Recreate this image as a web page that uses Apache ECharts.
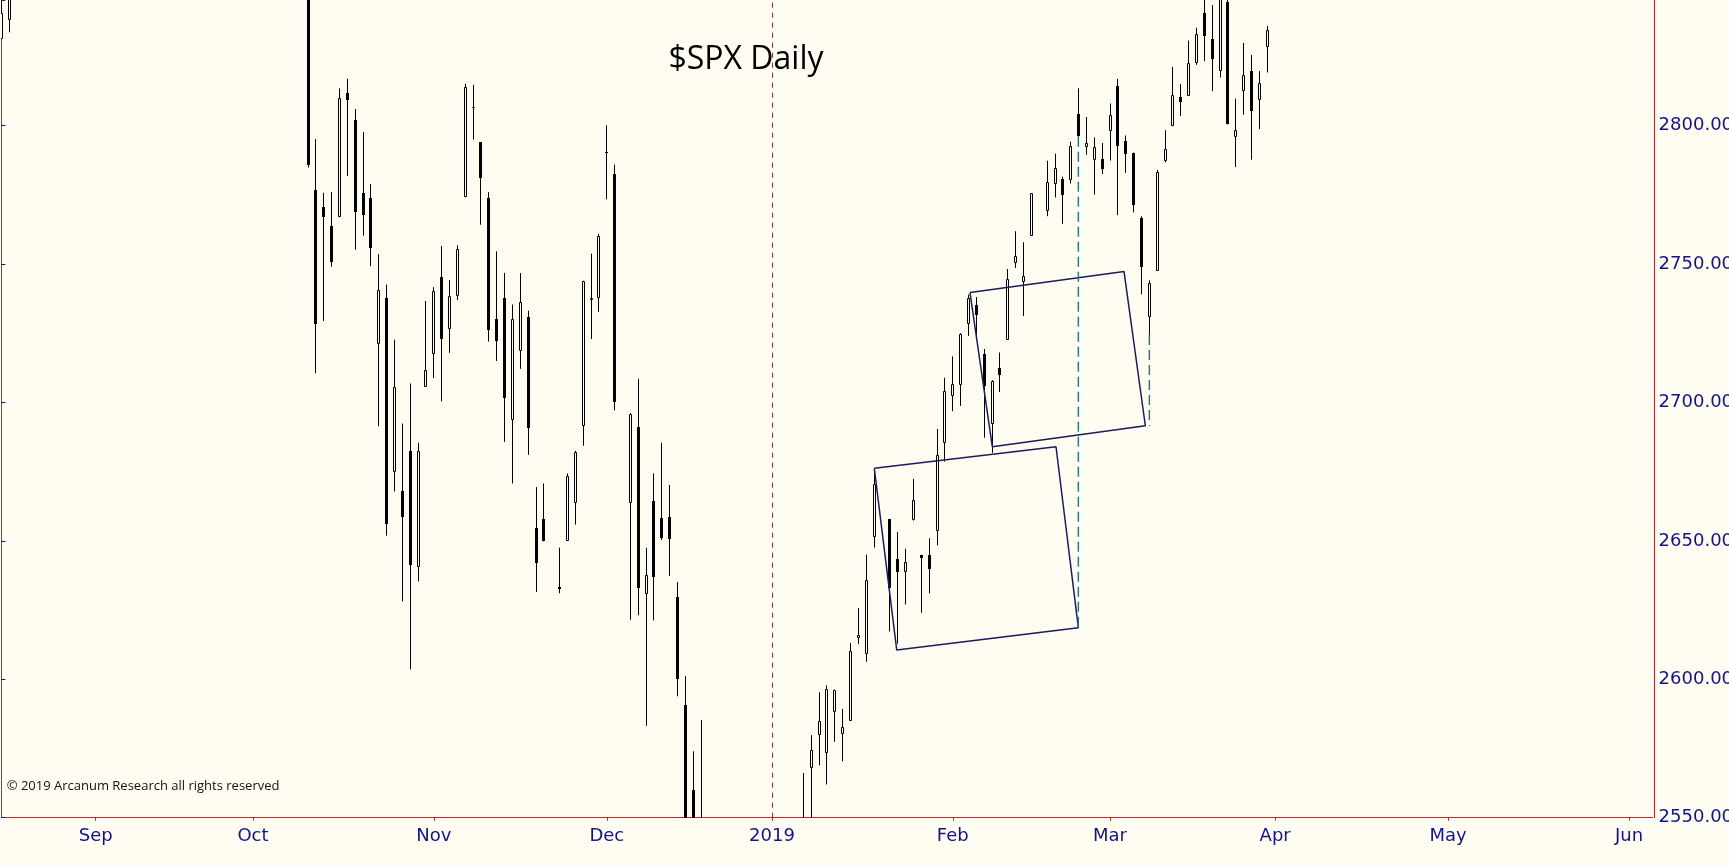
<!DOCTYPE html>
<html>
<head>
<meta charset="utf-8">
<title>$SPX Daily</title>
<script src="https://cdn.jsdelivr.net/npm/echarts@6/dist/echarts.min.js"></script>
<style>
html, body { margin: 0; padding: 0; background: #fffcf2; overflow: hidden; }
#chart { width: 1729px; height: 866px; }
</style>
</head>
<body>
<div id="chart"></div>
<script>
// 日线 [日期, 开, 高, 低, 收]
var aug2018 = [
	['2018-08-16', 2831.44, 2850.49, 2831.44, 2840.69],
	['2018-08-17', 2838.32, 2855.63, 2833.73, 2850.13],
	['2018-08-20', 2853.93, 2859.76, 2850.62, 2857.05],
	['2018-08-21', 2861.51, 2873.23, 2856.98, 2862.96],
	['2018-08-22', 2860.99, 2867.54, 2856.05, 2861.82],
	['2018-08-23', 2860.29, 2868.78, 2854.03, 2856.98],
	['2018-08-24', 2862.35, 2876.16, 2862.35, 2874.69],
	['2018-08-27', 2884.69, 2898.25, 2884.69, 2896.74],
	['2018-08-28', 2901.45, 2903.77, 2893.50, 2897.52],
	['2018-08-29', 2900.62, 2916.50, 2898.40, 2914.04],
	['2018-08-30', 2908.94, 2912.46, 2895.22, 2901.13],
	['2018-08-31', 2898.37, 2906.32, 2891.73, 2901.52]
];
var sep2018 = [
	['2018-09-04', 2896.96, 2900.18, 2885.13, 2896.72],
	['2018-09-05', 2891.59, 2894.21, 2876.92, 2888.60],
	['2018-09-06', 2888.64, 2892.05, 2867.29, 2878.05],
	['2018-09-07', 2868.26, 2883.81, 2864.12, 2871.68],
	['2018-09-10', 2881.39, 2886.93, 2875.94, 2877.13],
	['2018-09-11', 2871.57, 2892.52, 2866.78, 2887.89],
	['2018-09-12', 2888.29, 2894.65, 2879.20, 2888.92],
	['2018-09-13', 2896.85, 2906.76, 2896.39, 2904.18],
	['2018-09-14', 2906.38, 2908.30, 2895.77, 2904.98],
	['2018-09-17', 2903.83, 2904.65, 2886.16, 2888.80],
	['2018-09-18', 2890.74, 2911.17, 2890.43, 2904.31],
	['2018-09-19', 2906.60, 2912.36, 2903.82, 2907.95],
	['2018-09-20', 2919.73, 2934.80, 2919.73, 2930.75],
	['2018-09-21', 2936.76, 2940.91, 2927.11, 2929.67],
	['2018-09-24', 2921.83, 2923.79, 2912.63, 2919.37],
	['2018-09-25', 2921.75, 2923.95, 2913.70, 2915.56],
	['2018-09-26', 2916.98, 2931.15, 2903.28, 2905.97],
	['2018-09-27', 2911.65, 2927.22, 2909.27, 2914.00],
	['2018-09-28', 2910.03, 2920.53, 2907.50, 2913.98]
];
var oct2018 = [
	['2018-10-01', 2926.29, 2937.06, 2917.91, 2924.59],
	['2018-10-02', 2923.80, 2931.42, 2919.37, 2923.43],
	['2018-10-03', 2931.69, 2939.86, 2921.36, 2925.51],
	['2018-10-04', 2919.35, 2919.78, 2883.92, 2901.61],
	['2018-10-05', 2902.54, 2909.64, 2869.29, 2885.57],
	['2018-10-08', 2877.53, 2889.45, 2862.08, 2884.43],
	['2018-10-09', 2882.51, 2894.83, 2874.27, 2880.34],
	['2018-10-10', 2873.90, 2874.02, 2784.86, 2785.68],
	['2018-10-11', 2776.87, 2795.14, 2710.51, 2728.37],
	['2018-10-12', 2770.54, 2775.77, 2729.44, 2767.13],
	['2018-10-15', 2763.83, 2775.99, 2749.03, 2750.79],
	['2018-10-16', 2767.05, 2813.46, 2766.91, 2809.92],
	['2018-10-17', 2811.67, 2816.94, 2781.81, 2809.21],
	['2018-10-18', 2802.00, 2806.04, 2755.18, 2768.78],
	['2018-10-19', 2775.66, 2797.77, 2760.27, 2767.78],
	['2018-10-22', 2773.94, 2778.94, 2749.22, 2755.88],
	['2018-10-23', 2721.03, 2753.59, 2691.43, 2740.69],
	['2018-10-24', 2737.87, 2742.59, 2651.89, 2656.10],
	['2018-10-25', 2674.88, 2722.70, 2667.84, 2705.57],
	['2018-10-26', 2667.86, 2692.38, 2628.16, 2658.69],
	['2018-10-29', 2682.65, 2706.85, 2603.54, 2641.25],
	['2018-10-30', 2640.68, 2685.43, 2635.34, 2682.63],
	['2018-10-31', 2705.60, 2736.69, 2705.60, 2711.74]
];
var nov2018 = [
	['2018-11-01', 2717.58, 2741.67, 2708.85, 2740.37],
	['2018-11-02', 2745.45, 2756.55, 2700.44, 2723.06],
	['2018-11-05', 2726.37, 2744.27, 2717.94, 2738.31],
	['2018-11-06', 2738.40, 2756.82, 2737.08, 2755.45],
	['2018-11-07', 2774.13, 2815.15, 2774.13, 2813.89],
	['2018-11-08', 2806.38, 2814.75, 2794.99, 2806.83],
	['2018-11-09', 2794.10, 2794.10, 2764.24, 2781.01],
	['2018-11-12', 2773.93, 2775.99, 2722.00, 2726.22],
	['2018-11-13', 2730.05, 2754.60, 2714.98, 2722.18],
	['2018-11-14', 2737.90, 2746.80, 2685.75, 2701.58],
	['2018-11-15', 2693.52, 2735.38, 2670.75, 2730.20],
	['2018-11-16', 2718.54, 2746.75, 2712.16, 2736.27],
	['2018-11-19', 2730.74, 2733.16, 2681.09, 2690.73],
	['2018-11-20', 2654.60, 2669.44, 2631.52, 2641.89],
	['2018-11-21', 2657.74, 2670.73, 2649.82, 2649.93],
	['2018-11-23', 2633.36, 2647.55, 2631.09, 2632.56],
	['2018-11-26', 2649.97, 2674.35, 2649.97, 2673.45],
	['2018-11-27', 2663.75, 2682.53, 2655.89, 2682.17],
	['2018-11-28', 2691.45, 2744.00, 2684.38, 2743.79],
	['2018-11-29', 2736.97, 2753.75, 2722.94, 2737.80],
	['2018-11-30', 2737.76, 2760.88, 2732.76, 2760.17]
];
var dec2018 = [
	['2018-12-03', 2790.50, 2800.18, 2773.38, 2790.37],
	['2018-12-04', 2782.43, 2785.93, 2697.18, 2700.06],
	['2018-12-06', 2663.51, 2696.15, 2621.53, 2695.95],
	['2018-12-07', 2691.26, 2708.54, 2623.14, 2633.08],
	['2018-12-10', 2630.86, 2647.51, 2583.23, 2637.72],
	['2018-12-11', 2664.44, 2674.35, 2621.30, 2636.78],
	['2018-12-12', 2658.23, 2685.44, 2650.26, 2651.07],
	['2018-12-13', 2658.70, 2670.19, 2637.27, 2650.54],
	['2018-12-14', 2629.68, 2635.07, 2593.84, 2599.95],
	['2018-12-17', 2590.75, 2601.13, 2530.54, 2545.94],
	['2018-12-18', 2559.90, 2573.99, 2528.71, 2546.16],
	['2018-12-19', 2547.05, 2585.29, 2488.96, 2506.96],
	['2018-12-20', 2496.77, 2509.63, 2441.18, 2467.42],
	['2018-12-21', 2465.38, 2504.41, 2408.55, 2416.62],
	['2018-12-24', 2400.56, 2410.34, 2351.10, 2351.10],
	['2018-12-26', 2363.12, 2467.76, 2346.58, 2467.70],
	['2018-12-27', 2442.50, 2489.10, 2397.94, 2488.83],
	['2018-12-28', 2498.77, 2520.27, 2472.89, 2485.74],
	['2018-12-31', 2498.94, 2509.24, 2482.82, 2506.85]
];
var jan2019 = [
	['2019-01-02', 2476.96, 2519.49, 2467.47, 2510.03],
	['2019-01-03', 2491.92, 2493.14, 2443.96, 2447.89],
	['2019-01-04', 2474.33, 2538.07, 2474.33, 2531.94],
	['2019-01-07', 2535.61, 2566.16, 2524.56, 2549.69],
	['2019-01-08', 2568.11, 2579.82, 2547.56, 2574.41],
	['2019-01-09', 2580.00, 2595.32, 2568.89, 2584.96],
	['2019-01-10', 2573.51, 2597.82, 2562.02, 2596.64],
	['2019-01-11', 2588.11, 2596.27, 2577.40, 2596.26],
	['2019-01-14', 2580.31, 2589.32, 2570.41, 2582.61],
	['2019-01-15', 2585.10, 2613.08, 2585.10, 2610.30],
	['2019-01-16', 2614.75, 2625.76, 2612.68, 2616.10],
	['2019-01-17', 2609.28, 2645.06, 2606.36, 2635.96],
	['2019-01-18', 2651.27, 2675.47, 2647.58, 2670.71],
	['2019-01-22', 2657.88, 2657.88, 2617.27, 2632.90],
	['2019-01-23', 2643.48, 2653.19, 2612.86, 2638.70],
	['2019-01-24', 2638.84, 2647.20, 2627.01, 2642.33],
	['2019-01-25', 2657.44, 2672.38, 2657.33, 2664.76],
	['2019-01-28', 2644.97, 2644.97, 2624.06, 2643.85],
	['2019-01-29', 2644.89, 2650.93, 2631.05, 2640.00],
	['2019-01-30', 2653.62, 2690.44, 2648.34, 2681.05],
	['2019-01-31', 2685.49, 2708.95, 2678.65, 2704.10]
];
var feb2019 = [
	['2019-02-01', 2702.32, 2716.66, 2696.88, 2706.53],
	['2019-02-04', 2706.49, 2724.99, 2698.75, 2724.87],
	['2019-02-05', 2728.34, 2738.98, 2724.03, 2737.70],
	['2019-02-06', 2735.05, 2738.08, 2724.15, 2731.61],
	['2019-02-07', 2717.53, 2719.32, 2687.26, 2706.05],
	['2019-02-08', 2692.36, 2708.07, 2681.83, 2707.88],
	['2019-02-11', 2712.40, 2718.05, 2703.79, 2709.80],
	['2019-02-12', 2722.61, 2748.19, 2722.61, 2744.73],
	['2019-02-13', 2750.30, 2761.85, 2748.63, 2753.03],
	['2019-02-14', 2743.50, 2757.90, 2731.23, 2745.73],
	['2019-02-15', 2760.24, 2775.66, 2760.24, 2775.60],
	['2019-02-19', 2769.28, 2787.33, 2767.29, 2779.76],
	['2019-02-20', 2779.05, 2789.88, 2774.06, 2784.70],
	['2019-02-21', 2780.67, 2781.58, 2764.55, 2774.88],
	['2019-02-22', 2780.24, 2794.20, 2779.11, 2792.67],
	['2019-02-25', 2804.35, 2813.49, 2794.99, 2796.11],
	['2019-02-26', 2792.36, 2803.12, 2789.47, 2793.90],
	['2019-02-27', 2787.50, 2795.76, 2775.13, 2792.38],
	['2019-02-28', 2788.11, 2793.73, 2782.51, 2784.49]
];
var mar2019 = [
	['2019-03-01', 2798.22, 2808.02, 2787.38, 2803.69],
	['2019-03-04', 2814.37, 2816.88, 2767.66, 2792.81],
	['2019-03-05', 2794.41, 2796.44, 2782.97, 2789.65],
	['2019-03-06', 2790.27, 2790.27, 2768.69, 2771.45],
	['2019-03-07', 2766.53, 2767.25, 2739.09, 2748.93],
	['2019-03-08', 2730.79, 2744.13, 2722.27, 2743.07],
	['2019-03-11', 2747.61, 2784.00, 2747.61, 2783.30],
	['2019-03-12', 2787.34, 2798.32, 2786.73, 2791.52],
	['2019-03-13', 2799.78, 2821.24, 2799.78, 2810.92],
	['2019-03-14', 2810.38, 2815.00, 2803.46, 2808.48],
	['2019-03-15', 2810.79, 2830.73, 2810.79, 2822.48],
	['2019-03-18', 2822.61, 2835.41, 2821.99, 2832.94],
	['2019-03-19', 2840.76, 2852.42, 2823.28, 2832.57],
	['2019-03-20', 2831.34, 2843.54, 2812.43, 2824.23],
	['2019-03-21', 2819.72, 2860.31, 2817.38, 2854.88],
	['2019-03-22', 2844.52, 2846.16, 2800.47, 2800.71],
	['2019-03-25', 2796.01, 2809.79, 2785.02, 2798.36],
	['2019-03-26', 2812.66, 2829.87, 2803.99, 2818.46],
	['2019-03-27', 2819.72, 2825.56, 2787.72, 2805.37],
	['2019-03-28', 2809.40, 2819.71, 2798.77, 2815.44],
	['2019-03-29', 2828.27, 2836.03, 2819.23, 2834.40]
];

// 坐标轴
var firstDay = '2018-08-16';
var lastDay = '2019-06-06';
var monthLabels = ['2019', 'Feb', 'Mar', 'Apr', 'May', 'Jun', 'Jul', 'Aug', 'Sep', 'Oct', 'Nov', 'Dec'];
var yTicks = [2550, 2600, 2650, 2700, 2750, 2800];

// 画线 [日期, 偏移(天), 价格]
var lowerBox = [
	['2019-01-18', 0.02, 2676.2],
	['2019-02-20', 0.13, 2684.0],
	['2019-02-25', -0.03, 2618.6],
	['2019-01-23', -0.13, 2610.6],
	['2019-01-18', 0.02, 2676.2]
];
var upperBox = [
	['2019-02-05', 0.19, 2739.7],
	['2019-03-05', -0.22, 2747.3],
	['2019-03-07', 0.49, 2691.6],
	['2019-02-08', 0.03, 2684.0],
	['2019-02-05', 0.19, 2739.7]
];
var dropLine1 = [['2019-02-25', -0.03, 2796.0], ['2019-02-25', -0.03, 2618.6]];
var dropLine2 = [['2019-03-08', 0.0, 2724.4], ['2019-03-08', 0.0, 2691.6]];
var yearLine = '2019-01-01';

// 工作日类目 (含休市日)
var days = [];
var cur = new Date(firstDay + 'T00:00:00Z');
var stop = new Date(lastDay + 'T00:00:00Z');
while (cur <= stop) {
	var wd = cur.getUTCDay();
	if (wd !== 0 && wd !== 6) days.push(cur.toISOString().slice(0, 10));
	cur.setUTCDate(cur.getUTCDate() + 1);
}
var dayIndex = {};
days.forEach(function (d, i) { dayIndex[d] = i; });

// [类目序号, 开, 收, 低, 高]
var candleData = [];
[aug2018, sep2018, oct2018, nov2018, dec2018, jan2019, feb2019, mar2019].forEach(function (m) {
	m.forEach(function (r) { candleData.push([dayIndex[r[0]], r[1], r[4], r[3], r[2]]); });
});

var monthStart = {};
days.forEach(function (d, i) {
	if (i > 0 && d.slice(5, 7) !== days[i - 1].slice(5, 7)) monthStart[i] = true;
});

function toPoints(list) {
	return list.map(function (p) { return [dayIndex[p[0]] + p[1], p[2]]; });
}

var bg = '#fffcf2';
var navy = '#14148a';
var axisRed = '#b52a2a';
var labelFont = 'DejaVu Sans';

// K线: 空心阳线, 实心阴线
function renderCandle(params, api) {
	var i = api.value(0);
	var o = api.value(1), c = api.value(2), lo = api.value(3), hi = api.value(4);
	var pH = api.coord([i, hi]), pL = api.coord([i, lo]);
	var pO = api.coord([i, o]), pC = api.coord([i, c]);
	var cx = Math.floor(pH[0]) + 0.5;
	var top = Math.round(Math.min(pO[1], pC[1]));
	var bot = Math.round(Math.max(pO[1], pC[1]));
	if (bot - top < 1) bot = top + 1;
	var line = { stroke: '#000', lineWidth: 1 };
	var kids = [
		{ type: 'line', shape: { x1: cx, y1: pH[1], x2: cx, y2: top }, style: line },
		{ type: 'line', shape: { x1: cx, y1: bot, x2: cx, y2: pL[1] }, style: line }
	];
	if (c >= o) {
		kids.push({ type: 'rect', shape: { x: cx - 1, y: top + 0.5, width: 2, height: Math.max(0, bot - top - 1) },
			style: { fill: bg, stroke: '#000', lineWidth: 1 } });
	} else {
		kids.push({ type: 'rect', shape: { x: cx - 1.5, y: top, width: 3, height: bot - top },
			style: { fill: '#000' } });
	}
	return { type: 'group', children: kids };
}

var myChart = echarts.init(document.getElementById('chart'));
option = {
	backgroundColor: bg,
	animation: false,
	grid: {
		left: 1.34,
		right: 76.4,
		top: 0,
		bottom: 48.3,
		containLabel: false,
		outerBoundsMode: 'none'
	},
	xAxis: [{
		type: 'category',
		data: days,
		boundaryGap: false,
		axisLine: { onZero: false, lineStyle: { color: axisRed, width: 1 } },
		axisTick: {
			interval: function (i) { return !!monthStart[i]; },
			length: 3,
			lineStyle: { color: axisRed }
		},
		axisLabel: {
			interval: function (i) { return !!monthStart[i]; },
			formatter: function (v) { return monthLabels[parseInt(v.slice(5, 7), 10) - 1]; },
			color: navy,
			fontFamily: labelFont,
			fontSize: 18,
			margin: 10,
			hideOverlap: false
		},
		splitLine: { show: false }
	}, {
		type: 'value',
		min: 0,
		max: days.length - 1,
		show: false
	}],
	yAxis: [{
		type: 'value',
		position: 'right',
		min: yTicks[0],
		max: 2845.4,
		interval: 50,
		axisLine: { show: true, lineStyle: { color: axisRed, width: 1 } },
		axisTick: { show: true, length: 4, lineStyle: { color: navy } },
		axisLabel: {
			formatter: function (v) { return yTicks.indexOf(v) >= 0 ? v.toFixed(2) : ''; },
			color: navy,
			fontFamily: labelFont,
			fontSize: 18,
			margin: 6
		},
		splitLine: { show: false }
	}, {
		type: 'value',
		position: 'right',
		offset: 2,
		min: yTicks[0],
		max: 2845.4,
		axisLine: { show: true, lineStyle: { color: axisRed, width: 1 } },
		axisTick: { show: false },
		axisLabel: { show: false },
		splitLine: { show: false }
	}],
	series: [{
		name: '$SPX',
		type: 'custom',
		xAxisIndex: 0,
		yAxisIndex: 0,
		renderItem: renderCandle,
		encode: { x: 0, y: [1, 2, 3, 4] },
		data: candleData,
		clip: true,
		silent: true,
		markLine: {
			silent: true,
			symbol: ['none', 'none'],
			label: { show: false },
			lineStyle: { color: '#8c2d36', type: [5, 5], width: 1 },
			data: [{ xAxis: yearLine }]
		}
	}, {
		type: 'line',
		xAxisIndex: 1,
		yAxisIndex: 0,
		data: toPoints(lowerBox),
		symbol: 'none',
		silent: true,
		lineStyle: { color: '#1b1b5e', width: 1.5 }
	}, {
		type: 'line',
		xAxisIndex: 1,
		yAxisIndex: 0,
		data: toPoints(upperBox),
		symbol: 'none',
		silent: true,
		lineStyle: { color: '#1b1b5e', width: 1.5 }
	}, {
		type: 'line',
		xAxisIndex: 1,
		yAxisIndex: 0,
		data: toPoints(dropLine1),
		symbol: 'none',
		silent: true,
		lineStyle: { color: '#2a7882', width: 1.5, type: [10, 5] }
	}, {
		type: 'line',
		xAxisIndex: 1,
		yAxisIndex: 0,
		data: toPoints(dropLine2),
		symbol: 'none',
		silent: true,
		lineStyle: { color: '#2a7882', width: 1.5, type: [10, 5] }
	}],
	graphic: [{
		type: 'text',
		x: 746,
		y: 60,
		style: {
			text: '$SPX Daily',
			font: '32px "Open Sans"',
			fill: '#000',
			align: 'center',
			verticalAlign: 'middle'
		}
	}, {
		type: 'text',
		x: 6.7,
		y: 786,
		style: {
			text: '© 2019 Arcanum Research all rights reserved',
			font: '13px "Open Sans"',
			fill: '#111',
			align: 'left',
			verticalAlign: 'middle'
		}
	}]
};
myChart.setOption(option);
</script>
</body>
</html>
